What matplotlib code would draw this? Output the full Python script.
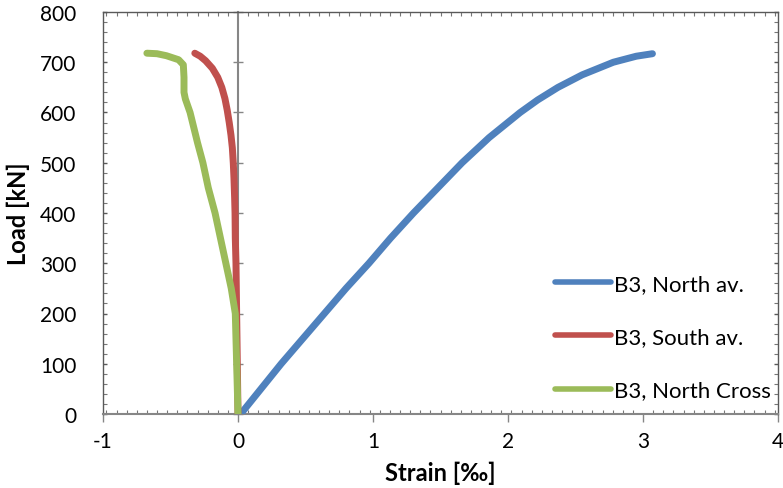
import matplotlib
matplotlib.use("Agg")
import matplotlib.pyplot as plt
from matplotlib.ticker import MultipleLocator, NullFormatter

plt.rcParams['font.family'] = ['Lato', 'DejaVu Sans']

# Data (strain in per mille, load in kN)
north_strain = [0.02, 0.17, 0.32, 0.48, 0.64, 0.80, 0.97, 1.13, 1.30, 1.48, 1.66, 1.86, 2.09, 2.22, 2.37, 2.55, 2.78, 2.95, 3.07]
north_load   = [0, 50, 100, 150, 200, 250, 300, 350, 400, 450, 500, 550, 600, 625, 650, 675, 700, 712, 717]

south_strain = [0.0, -0.005, -0.01, -0.015, -0.02, -0.022, -0.025, -0.03, -0.035, -0.042, -0.052, -0.065, -0.08, -0.097, -0.12, -0.15, -0.19, -0.24, -0.28, -0.32]
south_load   = [0, 100, 200, 300, 350, 400, 430, 470, 500, 530, 555, 580, 605, 628, 650, 670, 688, 703, 712, 718]

cross_strain = [0.0, -0.005, -0.01, -0.02, -0.05, -0.09, -0.13, -0.17, -0.22, -0.26, -0.30, -0.355, -0.39, -0.40, -0.40, -0.405, -0.44, -0.53, -0.60, -0.675]
cross_load   = [0, 50, 100, 200, 250, 300, 350, 400, 450, 500, 540, 600, 627, 640, 670, 695, 705, 713, 717, 718]

labels = ["B3, North av.", "B3, South av.", "B3, North Cross"]
colors = ["#4F81BD", "#C0504D", "#9BBB59"]

fig = plt.figure(figsize=(7.83, 4.89), dpi=100)
ax = fig.add_axes([103/783, 1-415/489, (778-103)/783, (415-13)/489])

ax.set_xlim(-1, 4)
ax.set_ylim(0, 800)

# zero line (y-axis crossing at x=0)
sec = ax.secondary_yaxis(0.2)
sec.spines['right'].set_visible(False)
sec.spines['left'].set_color('#868686')
sec.spines['left'].set_linewidth(1.5)
sec.yaxis.set_major_locator(MultipleLocator(100))
sec.yaxis.set_major_formatter(NullFormatter())
sec.tick_params(axis='y', which='major', direction='inout', length=7, width=1, color='#868686')
sec.tick_params(axis='y', which='minor', length=0)

for s, l, c, lab in zip([north_strain, south_strain, cross_strain],
                        [north_load, south_load, cross_load], colors, labels):
    ax.plot(s, l, color=c, linewidth=5, solid_capstyle='round', solid_joinstyle='round',
            label=lab, zorder=3)

for side in ['top', 'left', 'right']:
    ax.spines[side].set_color('#595959')
    ax.spines[side].set_linewidth(1)
ax.spines['bottom'].set_color('#868686')
ax.spines['bottom'].set_linewidth(1.5)

ax.xaxis.set_major_locator(MultipleLocator(1))
ax.yaxis.set_major_locator(MultipleLocator(100))
ax.xaxis.set_minor_locator(MultipleLocator(0.075))
ax.yaxis.set_minor_locator(MultipleLocator(20))
ax.tick_params(axis='x', which='major', direction='out', length=6, width=1, color='#868686',
               labelsize=15, pad=6)
ax.tick_params(axis='y', which='major', direction='in', length=3, width=1, color='#595959',
               labelsize=15, pad=19, left=True, right=True)
ax.tick_params(axis='both', which='minor', direction='in', length=3, width=0.8, color='#777777',
               top=True, right=True)
ax.tick_params(axis='x', which='major', top=False)
ax.set_xticks([-1, 0, 1, 2, 3, 4])
ax.set_xticklabels(['-1', '0', '1', '2', '3', '4'])
ax.set_yticks(range(0, 801, 100))

ax.set_xlabel("Strain [‰]", fontsize=17, fontweight='bold')
ax.xaxis.set_label_coords(0.5, -(462-415)/402)
ax.set_ylabel("Load [kN]", fontsize=17, fontweight='bold')
ax.yaxis.set_label_coords(-(103-30)/675, 0.5)

leg = ax.legend(loc='lower right', bbox_to_anchor=(1.012, -0.005), frameon=False, fontsize=16,
                handlelength=2.5, handletextpad=0.14, labelspacing=1.5, borderaxespad=0.3)
for h in leg.get_lines():
    h.set_linewidth(4)

fig.savefig("out.png", dpi=100)
